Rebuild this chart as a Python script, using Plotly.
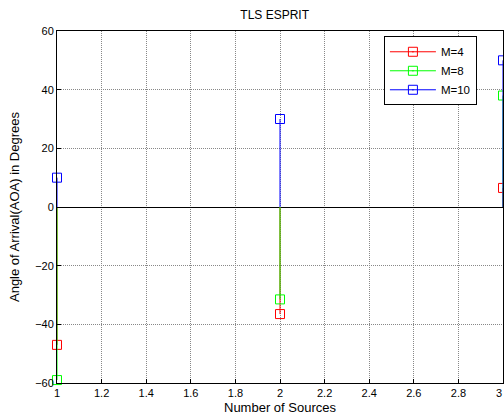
import plotly.graph_objects as go

sources = [1, 2, 3]
m4 = [-47, -36.5, 6.5]
m8 = [-59, -31.5, 38]
m10 = [10, 30, 50]
names = ["M=4", "M=8", "M=10"]
colors = ["#ff0000", "#00ff00", "#0000ff"]
x_ticks = [1, 1.2, 1.4, 1.6, 1.8, 2, 2.2, 2.4, 2.6, 2.8, 3]
y_ticks = [-60, -40, -20, 0, 20, 40, 60]

fig = go.Figure()
for name, vals, col in zip(names, [m4, m8, m10], colors):
    sx, sy = [], []
    for xv, yv in zip(sources, vals):
        sx += [xv, xv, None]
        sy += [0, yv, None]
    fig.add_trace(go.Scatter(x=sx, y=sy, mode="lines", line=dict(color=col, width=1),
                             showlegend=False, hoverinfo="skip", cliponaxis=False))
    fig.add_trace(go.Scatter(x=sources, y=vals, mode="markers", showlegend=False,
                             marker=dict(symbol="square-open", size=9, color=col, line=dict(width=1)),
                             cliponaxis=False))
    fig.add_trace(go.Scatter(x=[None], y=[None], mode="lines+markers", name=name,
                             line=dict(color=col, width=1),
                             marker=dict(symbol="square-open-dot", size=9, color=col, line=dict(width=1))))

fig.add_annotation(x=3, y=0, xref="x", yref="paper", text=f"{x_ticks[-1]:g}", showarrow=False,
                   yanchor="top", yshift=-2, xanchor="right", xshift=1,
                   font=dict(size=11, family="Liberation Sans, Arial", color="black"))

fig.update_layout(
    width=504, height=418,
    margin=dict(l=57, r=1, t=31, b=35),
    paper_bgcolor="white", plot_bgcolor="white",
    font=dict(family="Liberation Sans, Arial", size=11, color="black"),
    title=dict(text="TLS ESPRIT", x=0.545, xanchor="center", y=0.965, yanchor="middle",
               font=dict(size=12)),
    legend=dict(x=0.733, y=0.985, xanchor="left", yanchor="top", bgcolor="white",
                bordercolor="black", borderwidth=1, font=dict(size=11.5),
                itemwidth=46, tracegroupgap=0),
    showlegend=True,
)
grid = dict(showgrid=True, gridcolor="#888888", griddash="1px,1px", gridwidth=1,
            showline=True, linecolor="black", mirror=True, linewidth=1,
            ticks="inside", ticklen=4, tickcolor="black")
fig.update_xaxes(range=[1, 3], tickvals=x_ticks[:-1], ticktext=[f"{v:g}" for v in x_ticks[:-1]],
                 zeroline=False, title=dict(text="Number of Sources", standoff=4), **grid)
fig.update_yaxes(range=[-60, 60], tickvals=y_ticks,
                 zeroline=True, zerolinecolor="black", zerolinewidth=1,
                 title=dict(text="Angle of Arrival(AOA) in Degrees", standoff=12), **grid)

fig.write_html("out.html")
